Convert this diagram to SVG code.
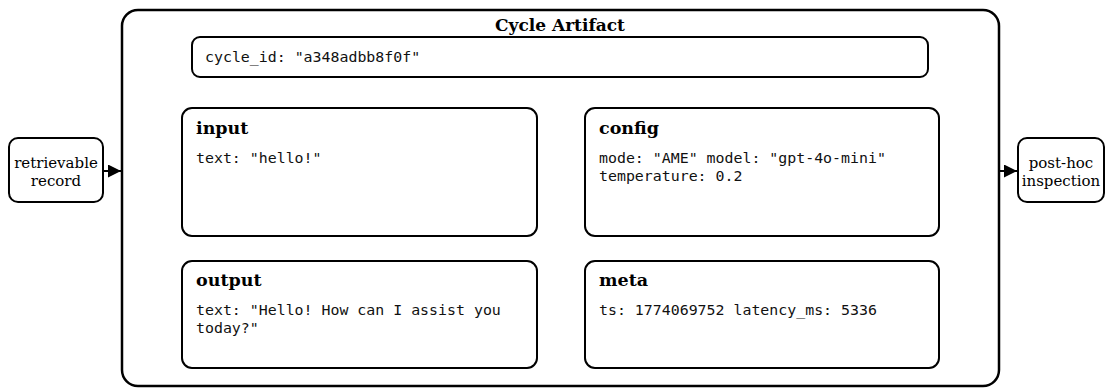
<svg xmlns="http://www.w3.org/2000/svg" width="1107" height="389" viewBox="0 0 1107 389">
  <style>
    .box { fill: #ffffff; stroke: #000000; }
    .outer { stroke-width: 2.5; }
    .inner { stroke-width: 2; }
    .title { font-family: "DejaVu Serif", "Liberation Serif", serif; font-weight: bold; font-size: 17.5px; fill: #000; }
    .label { font-family: "DejaVu Serif", "Liberation Serif", serif; font-size: 15px; fill: #000; text-anchor: middle; }
    .mono { font-family: "DejaVu Sans Mono", "Liberation Mono", monospace; font-size: 14.9px; fill: #111; }
    .edge { stroke: #000; stroke-width: 2; fill: none; }
  </style>
  <defs>
    <marker id="arrow" viewBox="0 0 10 10" refX="10" refY="5" markerWidth="6.5" markerHeight="6.5" orient="auto" markerUnits="strokeWidth">
      <path d="M0,0 L10,5 L0,10 Z" fill="#000"/>
    </marker>
  </defs>

  <rect width="1107" height="389" fill="#ffffff"/>

  <!-- container -->
  <g id="cycle-artifact">
    <rect class="box outer" x="122" y="10" width="877" height="376" rx="16"/>
    <text class="title" x="560" y="31" text-anchor="middle" style="font-size:17px">Cycle Artifact</text>
  </g>

  <g id="cycle-id">
    <rect class="box inner" x="192" y="37" width="736" height="40" rx="8"/>
    <text class="mono" x="205" y="62">cycle_id: "a348adbb8f0f"</text>
  </g>

  <g id="input">
    <rect class="box inner" x="182" y="108" width="355" height="128" rx="10"/>
    <text class="title" x="196" y="134">input</text>
    <text class="mono" x="196" y="163">text: "hello!"</text>
  </g>

  <g id="config">
    <rect class="box inner" x="585" y="108" width="354" height="128" rx="10"/>
    <text class="title" x="599" y="134">config</text>
    <text class="mono" x="599" y="163">mode: "AME" model: "gpt-4o-mini"</text>
    <text class="mono" x="599" y="181">temperature: 0.2</text>
  </g>

  <g id="output">
    <rect class="box inner" x="182" y="261" width="355" height="107" rx="10"/>
    <text class="title" x="196" y="286">output</text>
    <text class="mono" x="196" y="315">text: "Hello! How can I assist you</text>
    <text class="mono" x="196" y="333">today?"</text>
  </g>

  <g id="meta">
    <rect class="box inner" x="585" y="261" width="354" height="107" rx="10"/>
    <text class="title" x="599" y="286">meta</text>
    <text class="mono" x="599" y="315">ts: 1774069752 latency_ms: 5336</text>
  </g>

  <g id="retrievable-record">
    <rect class="box inner" x="9" y="138" width="94" height="64" rx="9"/>
    <text class="label" x="56" y="168">retrievable</text>
    <text class="label" x="56" y="186">record</text>
  </g>

  <g id="post-hoc-inspection">
    <rect class="box inner" x="1018" y="138" width="86" height="64" rx="9"/>
    <text class="label" x="1061" y="168">post-hoc</text>
    <text class="label" x="1061" y="186">inspection</text>
  </g>

  <!-- connectors -->
  <g id="edges">
    <line class="edge" x1="103" y1="171" x2="121" y2="171" marker-end="url(#arrow)"/>
    <line class="edge" x1="999" y1="171" x2="1017" y2="171" marker-end="url(#arrow)"/>
  </g>
</svg>
